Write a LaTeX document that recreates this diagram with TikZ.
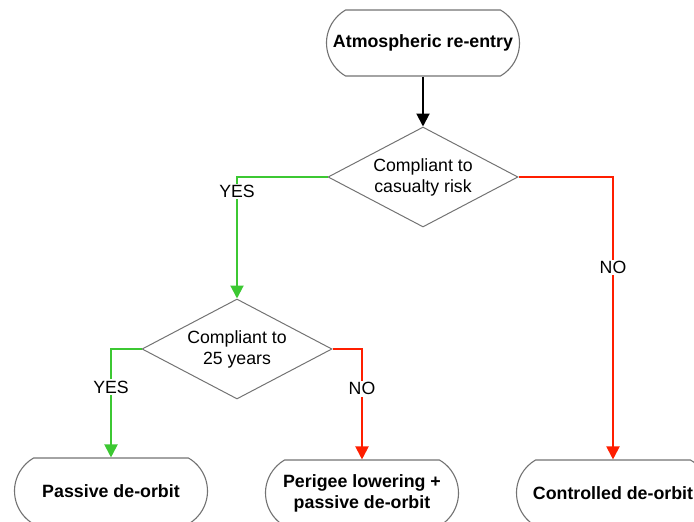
\documentclass[tikz,border=0pt]{standalone}
\usepackage{fontspec}
\setmainfont{Liberation Sans}
\usetikzlibrary{
  arrows.meta,
  shapes.misc,
  shapes.geometric,
  positioning
}
\definecolor{yesgreen}{RGB}{60,200,50}
\definecolor{nored}{RGB}{255,30,0}
\definecolor{edgegray}{RGB}{115,115,115}

\begin{document}
\begin{tikzpicture}[x=1pt,y=-1pt,
      terminal/.style={
         rounded rectangle,
         rounded rectangle arc length=120,
         minimum width=193pt,
         minimum height=66pt,
         inner sep=0pt,
         line width=1.1pt,
         draw=edgegray,
         fill=white,
         align=center,
         font=\bfseries\fontsize{17.8}{21}\selectfont
      },
      decision/.style={
         diamond,
         aspect=1.9,
         minimum width=190pt,
         minimum height=100pt,
         inner sep=0pt,
         line width=1pt,
         draw=edgegray,
         align=center,
         font=\fontsize{17.7}{21}\selectfont
      },
      answer/.style={
         fill=white,
         inner sep=1.5pt,
         font=\fontsize{17.7}{21}\selectfont
      },
      flow/.style={line width=2pt,-{Triangle[width=13pt,length=13pt]}},
      yes path/.style={flow,draw=yesgreen},
      no path/.style={flow,draw=nored}
    ]
    \useasboundingbox (0,0) rectangle (694,522);

    \node (entry) [terminal] at (423,43) {Atmospheric re-entry};
    \node (q1) [decision] at (423,177) {Compliant to\\casualty risk};
    \node (q2) [decision] at (237,349) {Compliant to\\25 years};
    \node (passive) [terminal] at (111,491) {Passive de-orbit};
    \node (perigee) [terminal] at (362,493) {Perigee lowering +\\passive de-orbit};
    \node (controlled) [terminal] at (613,493) {Controlled de-orbit};

    \draw [flow] (entry.south) -- (q1.north);
    \draw [yes path] (q1.west) -| (q2.north)
          node [answer,pos=0.56] {YES};
    \draw [no path] (q1.east) -| (controlled.north)
          node [answer,pos=0.66] {NO};
    \draw [yes path] (q2.west) -| (passive.north)
          node [answer,pos=0.675] {YES};
    \draw [no path] (q2.east) -| (perigee.north)
          node [answer,pos=0.68] {NO};
\end{tikzpicture}
\end{document}
